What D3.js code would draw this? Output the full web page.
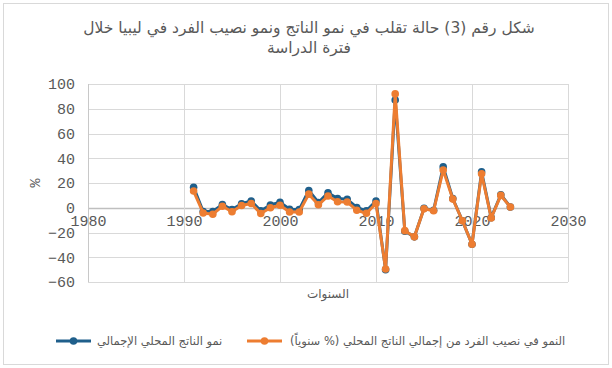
<!DOCTYPE html>
<html>
<head>
<meta charset="utf-8">
<script src="https://cdn.jsdelivr.net/npm/d3@7"></script>
<style>
  body { margin: 0; background: #fff; }
  svg { display: block; }
</style>
</head>
<body>
<div id="chart"></div>
<script>
var width = 612,
    height = 368,
    margin = {top: 84, right: 44, bottom: 86, left: 88};

// Data
var years = [1991, 1992, 1993, 1994, 1995, 1996, 1997, 1998, 1999, 2000,
             2001, 2002, 2003, 2004, 2005, 2006, 2007, 2008, 2009, 2010,
             2011, 2012, 2013, 2014, 2015, 2016, 2017, 2018, 2019, 2020,
             2021, 2022, 2023, 2024];
var gdpGrowth = [16.5, -3, -3, 2.6, -1.5, 3.2, 5.5, -2.5, 2.2, 4.5,
                 -1.2, -1.5, 14, 4.2, 12, 7.4, 6.8, 0.2, -2.5, 5.5,
                 -50, 87, -19, -23.5, -0.5, -2, 33, 7.5, -10.5, -29.5,
                 29, -8, 10.5, 0.6];
var perCapitaGrowth = [13.5, -4.2, -5.2, 1.2, -3.2, 1.8, 3.4, -4.7, 0, 2,
                       -3.4, -3.4, 11, 2.4, 9.5, 4.8, 4.6, -2, -4.5, 3.4,
                       -49.5, 92, -18.5, -23.5, -0.8, -2.4, 30.5, 7, -10.5, -29.5,
                       27.5, -8.3, 10, 0.6];
var xTicks = [1980, 1990, 2000, 2010, 2020, 2030];
var yTicks = [-60, -40, -20, 0, 20, 40, 60, 80, 100];

var titleLines = ['شكل رقم (3) حالة تقلب في نمو الناتج ونمو نصيب الفرد في ليبيا خلال', 'فترة الدراسة'];
var xTitle = 'السنوات';
var yTitle = '%';
var seriesNames = ['نمو الناتج المحلي الإجمالي', 'النمو في نصيب الفرد من إجمالي الناتج المحلي (% سنوياً)'];
var colors = ['#1f5f8b', '#ed7d31'];

var series = [gdpGrowth, perCapitaGrowth].map(function(vals, i) {
    return {
        name: seriesNames[i],
        color: colors[i],
        values: years.map(function(y, j) { return {year: y, value: vals[j]}; })
    };
});

var svg = d3.select('#chart')
    .append('svg')
    .attr('width', width)
    .attr('height', height);

// outer chart border
svg.append('rect')
    .attr('x', 3.5).attr('y', 3.5)
    .attr('width', width - 7).attr('height', height - 7)
    .attr('fill', '#fff')
    .attr('stroke', '#d9d9d9');

var innerW = width - margin.left - margin.right,
    innerH = height - margin.top - margin.bottom;

var x = d3.scaleLinear().domain([1980, 2030]).range([0, innerW]),
    y = d3.scaleLinear().domain([-60, 100]).range([innerH, 0]);

var graph = svg.append('g')
    .attr('transform', 'translate(' + margin.left + ',' + margin.top + ')');

// grid
graph.append('g')
    .selectAll('line')
    .data(yTicks)
    .enter().append('line')
    .attr('x1', 0).attr('x2', innerW)
    .attr('y1', function(d) { return Math.round(y(d)) + 0.5; })
    .attr('y2', function(d) { return Math.round(y(d)) + 0.5; })
    .attr('stroke', function(d) { return d === 0 ? '#bfbfbf' : '#d9d9d9'; })
    .attr('stroke-width', function(d) { return d === 0 ? 1.3 : 1; });

graph.append('g')
    .selectAll('line')
    .data(xTicks)
    .enter().append('line')
    .attr('y1', 0).attr('y2', innerH)
    .attr('x1', function(d) { return Math.round(x(d)) + 0.5; })
    .attr('x2', function(d) { return Math.round(x(d)) + 0.5; })
    .attr('stroke', function(d) { return d === 1980 ? '#c8c8c8' : '#d9d9d9'; });

// y axis labels
var yAxis = d3.axisLeft(y).tickValues(yTicks).tickSize(0).tickPadding(13);
var gy = graph.append('g').call(yAxis);
gy.select('.domain').remove();
gy.selectAll('text')
    .attr('fill', '#595959')
    .style('font-family', '"Liberation Mono", monospace')
    .style('font-size', '15px');

// x axis labels sit on the zero line
var xAxis = d3.axisBottom(x).tickValues(xTicks).tickSize(0).tickPadding(8).tickFormat(d3.format('d'));
var gx = graph.append('g')
    .attr('transform', 'translate(0,' + y(0) + ')')
    .call(xAxis);
gx.select('.domain').remove();
gx.selectAll('text')
    .attr('fill', '#595959')
    .style('font-family', '"Liberation Mono", monospace')
    .style('font-size', '15px');

// lines
var line = d3.line()
    .x(function(d) { return x(d.year); })
    .y(function(d) { return y(d.value); });

var s = graph.selectAll('.series')
    .data(series)
    .enter().append('g')
    .attr('class', 'series');

s.append('path')
    .attr('d', function(d) { return line(d.values); })
    .attr('fill', 'none')
    .attr('stroke', function(d) { return d.color; })
    .attr('stroke-width', 3)
    .attr('stroke-linejoin', 'round');

s.selectAll('circle')
    .data(function(d) { return d.values.map(function(v) { return {v: v, c: d.color}; }); })
    .enter().append('circle')
    .attr('cx', function(d) { return x(d.v.year); })
    .attr('cy', function(d) { return y(d.v.value); })
    .attr('r', 3.8)
    .attr('fill', function(d) { return d.c; });

// titles
svg.append('g')
    .selectAll('text')
    .data(titleLines)
    .enter().append('text')
    .attr('x', width / 2 + 3)
    .attr('y', function(d, i) { return 33 + i * 20; })
    .attr('text-anchor', 'middle')
    .attr('fill', '#595959')
    .style('font-family', '"DejaVu Sans", sans-serif')
    .style('font-size', '15.5px')
    .text(function(d) { return d; });

svg.append('text')
    .attr('x', margin.left + innerW / 2)
    .attr('y', 298)
    .attr('text-anchor', 'middle')
    .attr('fill', '#595959')
    .style('font-family', '"DejaVu Sans", sans-serif')
    .style('font-size', '12px')
    .text(xTitle);

svg.append('text')
    .attr('transform', 'translate(40,' + (margin.top + innerH / 2) + ') rotate(-90)')
    .attr('text-anchor', 'middle')
    .attr('fill', '#595959')
    .style('font-family', '"Liberation Mono", monospace')
    .style('font-size', '15px')
    .text(yTitle);

// legend
var legendItems = [
    {name: seriesNames[1], color: colors[1], x0: 247, tx: 290},
    {name: seriesNames[0], color: colors[0], x0: 56, tx: 97}
];
var lg = svg.selectAll('.legend')
    .data(legendItems)
    .enter().append('g')
    .attr('class', 'legend');
lg.append('line')
    .attr('x1', function(d) { return d.x0; })
    .attr('x2', function(d) { return d.x0 + 35; })
    .attr('y1', 341).attr('y2', 341)
    .attr('stroke', function(d) { return d.color; })
    .attr('stroke-width', 3);
lg.append('circle')
    .attr('cx', function(d) { return d.x0 + 17.5; })
    .attr('cy', 341)
    .attr('r', 3.8)
    .attr('fill', function(d) { return d.color; });
lg.append('text')
    .attr('x', function(d) { return d.tx; })
    .attr('y', 345)
    .attr('fill', '#595959')
    .attr('direction', 'rtl')
    .attr('text-anchor', 'end')
    .style('font-family', '"DejaVu Sans", sans-serif')
    .style('font-size', '11.5px')
    .text(function(d) { return d.name; });
</script>
</body>
</html>
